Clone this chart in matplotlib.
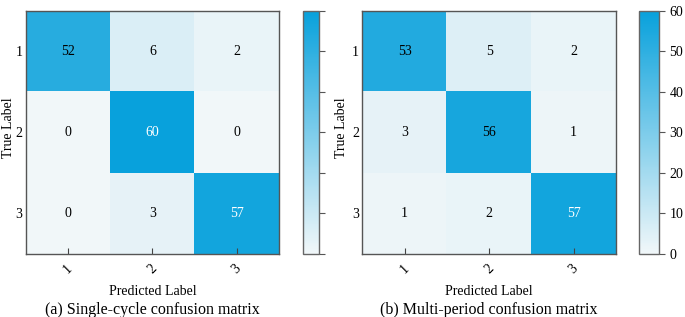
import numpy as np
import matplotlib
matplotlib.use("Agg")
import matplotlib.pyplot as plt
from matplotlib.colors import LinearSegmentedColormap

# ===== data =====
labels = ["1", "2", "3"]
cm_single = [[52, 6, 2],
             [0, 60, 0],
             [0, 3, 57]]
cm_multi = [[53, 5, 2],
            [3, 56, 1],
            [1, 2, 57]]
captions = ["(a) Single-cycle confusion matrix", "(b) Multi-period confusion matrix"]
cbar_ticks = [0, 10, 20, 30, 40, 50, 60]

plt.rcParams["font.family"] = ["Liberation Serif", "DejaVu Serif"]
cmap = LinearSegmentedColormap.from_list("bl", ["#f1f7f9", "#08a1dc"])

fig = plt.figure(figsize=(6.85, 3.17), dpi=100)
ax_pos = [[0.038, 0.199, 0.369, 0.767], [0.529, 0.199, 0.370, 0.767]]
cb_pos = [[0.442, 0.199, 0.024, 0.767], [0.933, 0.199, 0.029, 0.767]]
ylab_x = [-0.071, -0.083]

for i, cm in enumerate([cm_single, cm_multi]):
    cm = np.array(cm)
    ax = fig.add_axes(ax_pos[i])
    im = ax.imshow(cm, cmap=cmap, vmin=0, vmax=60, aspect="auto")
    for r in range(3):
        for c in range(3):
            v = cm[r, c]
            ax.text(c, r, str(v), ha="center", va="center", fontsize=10,
                    color="white" if v > 56 else "black")
    ax.set_xticks(range(3))
    ax.set_yticks(range(3))
    ax.set_xticklabels(labels, rotation=45, fontsize=10)
    ax.set_yticklabels(labels, fontsize=10)
    ax.tick_params(axis="x", direction="in", length=4, color="#444444", pad=6)
    ax.tick_params(axis="y", length=0, pad=2.5)
    for s in ax.spines.values():
        s.set_color("#555555")
        s.set_linewidth(1.0)
    ax.set_xlabel("Predicted Label", fontsize=10, va="center")
    ax.xaxis.set_label_coords(0.5, -0.153)
    ax.set_ylabel("True Label", fontsize=10, va="center")
    ax.yaxis.set_label_coords(ylab_x[i], 0.52)
    ax.text(0.5, -0.229, captions[i], transform=ax.transAxes, ha="center",
            va="center", fontsize=11.5)

    cax = fig.add_axes(cb_pos[i])
    cb = fig.colorbar(im, cax=cax, ticks=cbar_ticks)
    cb.outline.set_edgecolor("#666666")
    cb.outline.set_linewidth(1.0)
    cax.tick_params(length=4, color="#555555", labelsize=10)
    if i == 0:
        cax.set_yticklabels([])

fig.savefig("out.png", dpi=100)
